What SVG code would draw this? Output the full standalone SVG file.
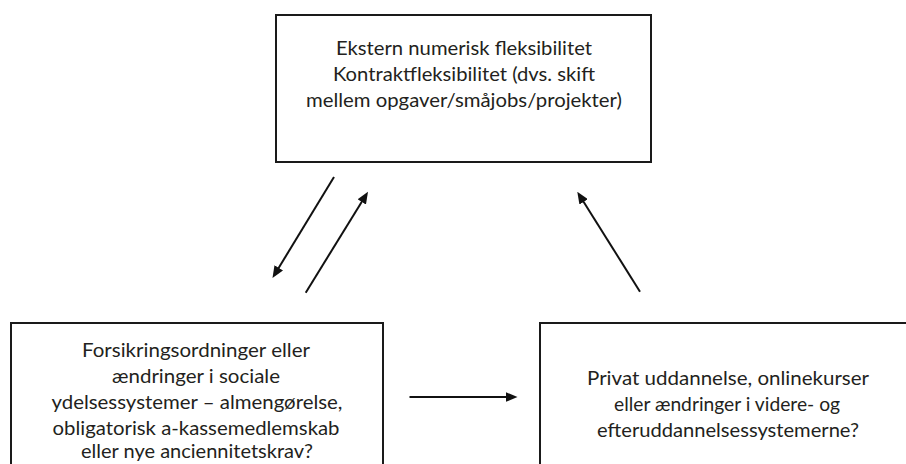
<svg xmlns="http://www.w3.org/2000/svg" width="906" height="464" viewBox="0 0 906 464">
<style>
.box{fill:#fff;stroke:#1a1a1a;stroke-width:2}
.t{font-family:Lato,"Open Sans","Liberation Sans",sans-serif;font-size:20px;fill:#231f20;text-anchor:middle}
.c{stroke:#111;stroke-width:2;fill:none;marker-end:url(#ah)}
</style>
<defs>
<marker id="ah" viewBox="0 0 12 10" markerWidth="12" markerHeight="10" refX="2" refY="5" orient="auto" markerUnits="userSpaceOnUse">
<path d="M0,0 L12,5 L0,10 z" fill="#111"/>
</marker>
</defs>
<rect width="906" height="464" fill="#fff"/>
<g id="node-top">
<rect class="box" x="276" y="15" width="375" height="147"/>
<text class="t" x="464" y="55" textLength="256" lengthAdjust="spacingAndGlyphs">Ekstern numerisk fleksibilitet</text>
<text class="t" x="464" y="81" textLength="262" lengthAdjust="spacingAndGlyphs">Kontraktfleksibilitet (dvs. skift</text>
<text class="t" x="464" y="107" textLength="316" lengthAdjust="spacingAndGlyphs">mellem opgaver/småjobs/projekter)</text>
</g>
<g id="node-left">
<rect class="box" x="11" y="323" width="372" height="200"/>
<text class="t" x="196" y="357" textLength="228" lengthAdjust="spacingAndGlyphs">Forsikringsordninger eller</text>
<text class="t" x="196" y="383" textLength="168" lengthAdjust="spacingAndGlyphs">ændringer i sociale</text>
<text class="t" x="197" y="409" textLength="291" lengthAdjust="spacingAndGlyphs">ydelsessystemer – almengørelse,</text>
<text class="t" x="196" y="435" textLength="287" lengthAdjust="spacingAndGlyphs">obligatorisk a-kassemedlemskab</text>
<text class="t" x="197" y="458" textLength="232" lengthAdjust="spacingAndGlyphs">eller nye anciennitetskrav?</text>
</g>
<g id="node-right">
<rect class="box" x="540" y="323" width="400" height="200"/>
<text class="t" x="728" y="385" textLength="282" lengthAdjust="spacingAndGlyphs">Privat uddannelse, onlinekurser</text>
<text class="t" x="727" y="411" textLength="226" lengthAdjust="spacingAndGlyphs">eller ændringer i videre- og</text>
<text class="t" x="728" y="437" textLength="262" lengthAdjust="spacingAndGlyphs">efteruddannelsessystemerne?</text>
</g>
<g id="connectors">
<line class="c" x1="334" y1="177" x2="277.7" y2="269.5"/>
<line class="c" x1="305.7" y1="292.7" x2="362.75" y2="200.2"/>
<line class="c" x1="640" y1="291.7" x2="582.6" y2="200.2"/>
<line class="c" x1="409.5" y1="397" x2="507.5" y2="397"/>
</g>
</svg>
